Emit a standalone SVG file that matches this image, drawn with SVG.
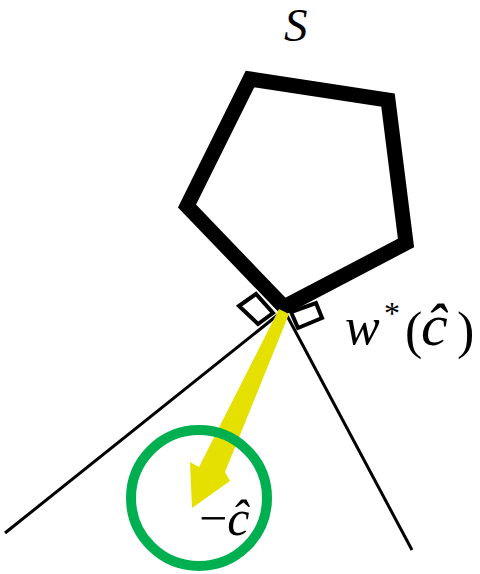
<svg xmlns="http://www.w3.org/2000/svg" width="480" height="574" viewBox="0 0 480 574">
<style>
.thin{stroke:#000;stroke-width:3;fill:none}
.sq{stroke:#000;stroke-width:4;fill:#fff}
.m{font-family:"Liberation Serif","DejaVu Serif",serif;fill:#000}
.i{font-style:italic}
</style>
<rect width="480" height="574" fill="#fff"/>
<g id="cone">
<line class="thin" x1="284" y1="310" x2="5" y2="533"/>
<line class="thin" x1="284" y1="310" x2="412" y2="550"/>
</g>
<g id="markers">
<polygon class="sq" points="239,306 256,294 273,313 258,324"/>
<polygon class="sq" points="291,312 316,303 322,318 298,328"/>
</g>
<g id="S">
<polygon points="250,79 388,100 406,243 284,307 187,206" fill="none" stroke="#000" stroke-width="15" stroke-linejoin="miter"/>
</g>
<g id="arrow">
<polygon points="279,309 289,314 225,472 230,481 192,508 190,462 199,467" fill="#E5E000"/>
</g>
<g id="ball">
<circle cx="199" cy="498" r="68" fill="none" stroke="#00B050" stroke-width="10"/>
</g>
<g id="labels">
<text class="m i" x="284" y="41" font-size="47">S</text>
<text class="m" y="344" font-size="52"><tspan class="i" x="345">w</tspan><tspan x="384" y="324" font-size="32">*</tspan><tspan x="405" y="348">(</tspan><tspan class="i" x="421" y="345" font-size="60">ĉ</tspan><tspan x="457" y="348">)</tspan></text>
<text class="m" x="199" y="535" font-size="50">−<tspan class="i">ĉ</tspan></text>
</g>
</svg>
